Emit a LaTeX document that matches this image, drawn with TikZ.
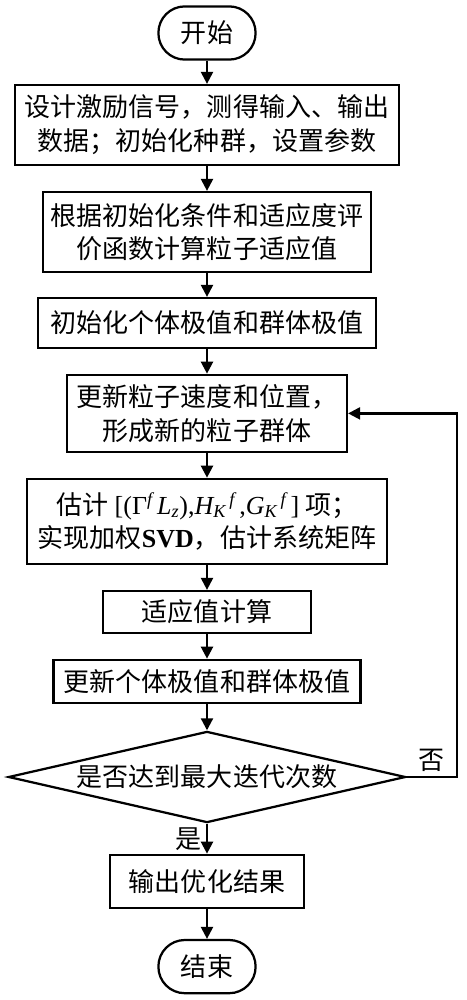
\documentclass[tikz,border=0pt]{standalone}
\usepackage{fontspec}
\setmainfont{Liberation Serif}
\newfontfamily\cjk{Noto Sans CJK SC}
\newcommand{\flowfont}{\cjk\fontsize{18.5pt}{24pt}\selectfont}
\newcommand{\flowvar}[1]{{\rmfamily\itshape #1}}
\usetikzlibrary{shapes.geometric, arrows.meta}

\begin{document}
\begin{tikzpicture}[
    terminal/.style={rectangle, rounded corners=0.66cm, draw, line width=1.6pt, minimum width=2.43cm, minimum height=1.33cm, font=\flowfont},
    process/.style={rectangle, draw, line width=1.6pt, align=center, inner sep=0pt, font=\flowfont},
    decision/.style={diamond, draw, line width=1.6pt, aspect=4.35, inner sep=0pt, font=\flowfont},
    arrow/.style={-{Triangle[length=3mm, width=3mm]}, line width=1.6pt}
]
\useasboundingbox (-5.175,0.825) rectangle (6.475,-24.175);

\node[terminal] (start) at (0,0) {开始};
\node[process, minimum width=9.6cm, minimum height=2cm] (p1) at (0,-2.3) {设计激励信号，测得输入、输出\\数据；初始化种群，设置参数};
\node[process, minimum width=8.2cm, minimum height=2cm] (p2) at (0,-4.975) {根据初始化条件和适应度评\\价函数计算粒子适应值};
\node[process, minimum width=8.45cm, minimum height=1.25cm] (p3) at (0,-7.25) {初始化个体极值和群体极值};
\node[process, minimum width=7cm, minimum height=1.93cm] (p4) at (0,-9.51) {更新粒子速度和位置，\\形成新的粒子群体};
\node[process, minimum width=9cm, minimum height=2.13cm] (p5) at (0,-12.21) {估计 {\rmfamily[(Γ\textsuperscript{\flowvar{f}}\,\flowvar{L}\textsubscript{\flowvar{z}}),\flowvar{H}\textsubscript{\flowvar{K}}\textsuperscript{\,\flowvar{f}}\,,\flowvar{G}\textsubscript{\flowvar{K}}\textsuperscript{\,\flowvar{f}}\,]} 项；\\实现加权{\rmfamily\bfseries SVD}，估计系统矩阵};
\node[process, minimum width=5.2cm, minimum height=1.05cm] (p6) at (0,-14.475) {适应值计算};
\node[process, minimum width=7.675cm, minimum height=1.08cm] (p7) at (0,-16.21) {更新个体极值和群体极值};
\node[decision, minimum width=9.93cm, minimum height=2.28cm] (d1) at (0,-18.6) {是否达到最大迭代次数};
\node[process, minimum width=4.85cm, minimum height=1.33cm] (p8) at (0,-21.21) {输出优化结果};
\node[terminal] (stop) at (0,-23.34) {结束};
\coordinate (back) at (6.25,-18.6);

\draw[arrow] (start) -- (p1);
\draw[arrow] (p1) -- (p2);
\draw[arrow] (p2) -- (p3);
\draw[arrow] (p3) -- (p4);
\draw[arrow] (p4) -- (p5);
\draw[arrow] (p5) -- (p6);
\draw[arrow] (p6) -- (p7);
\draw[arrow] (p7) -- (d1);
\draw[arrow] (d1) -- node[left, font=\flowfont] {是} (p8);
\draw[arrow] (p8) -- (stop);
\draw[arrow] (d1.east) -- node[above, font=\flowfont] {否} (back) |- (p4.east);
\end{tikzpicture}
\end{document}
